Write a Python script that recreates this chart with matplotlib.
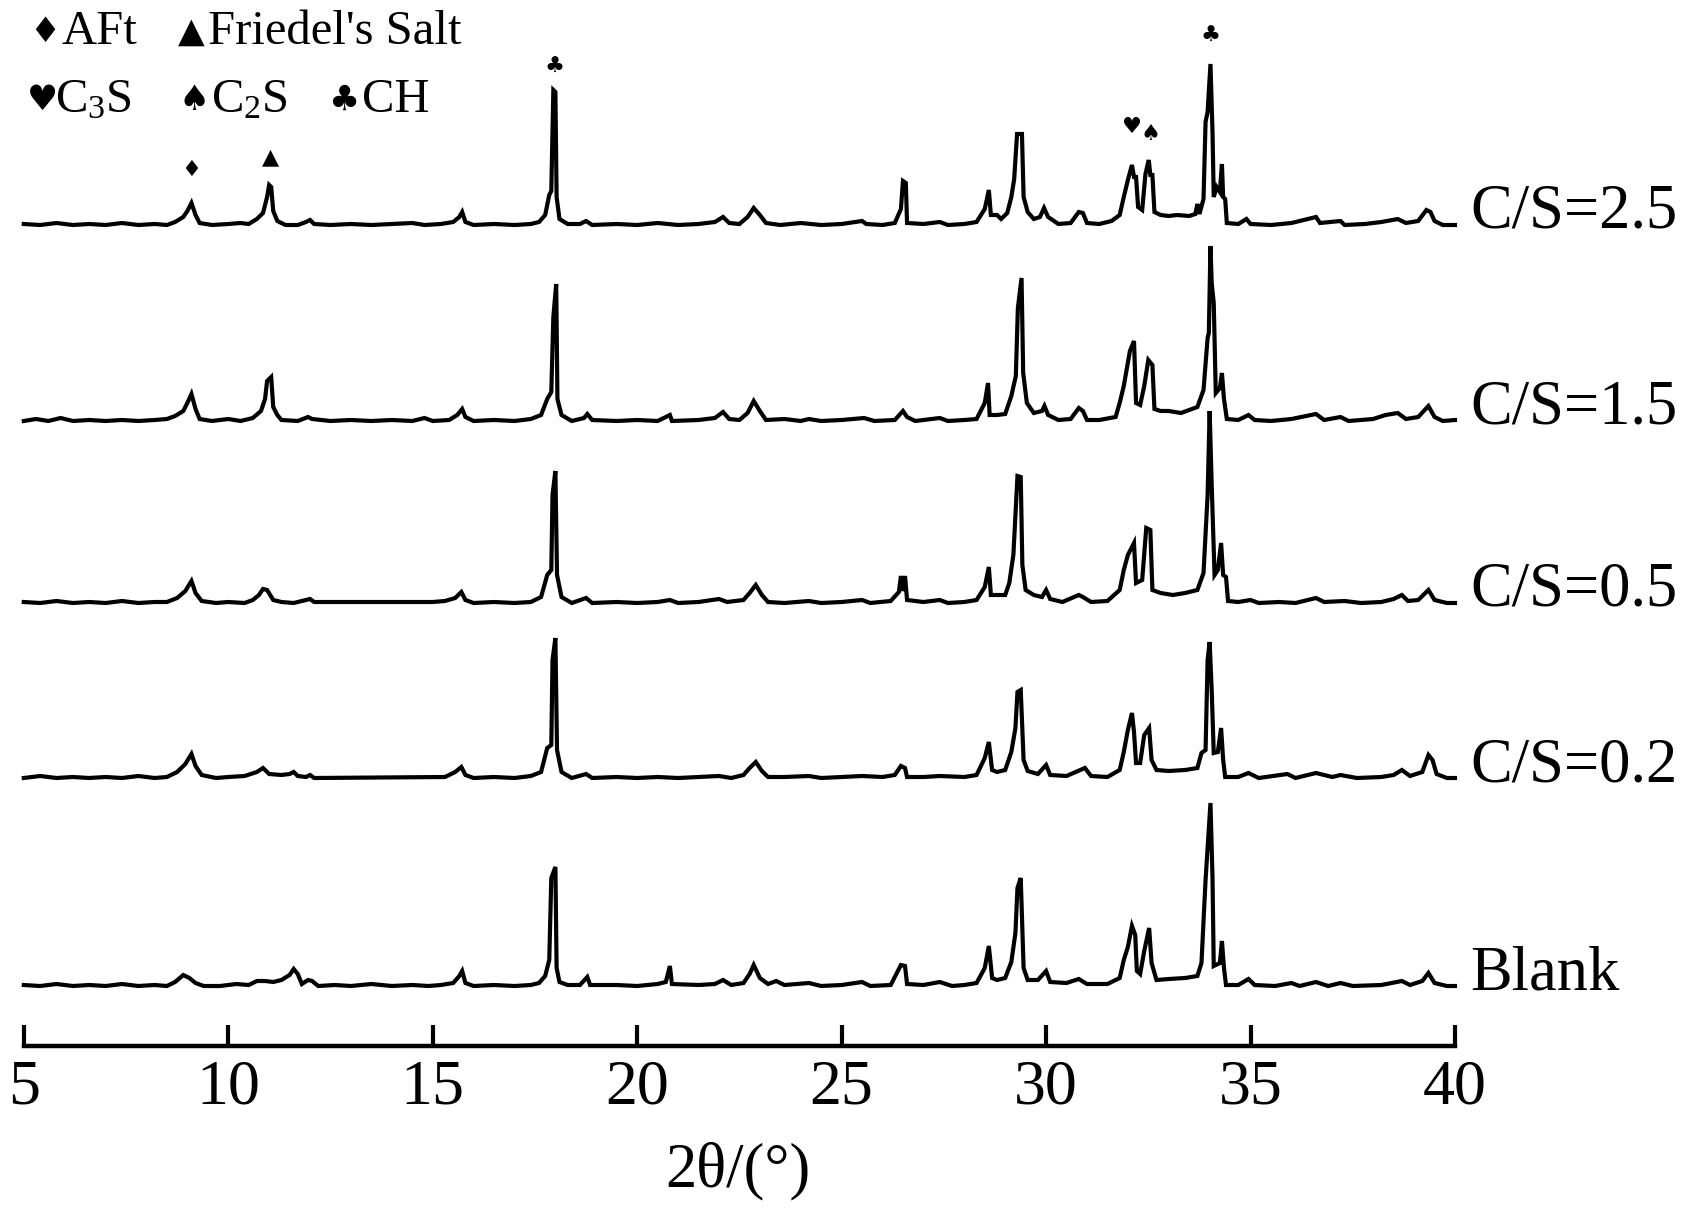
import matplotlib
matplotlib.use("Agg")
import matplotlib.pyplot as plt

plt.rcParams['font.family'] = ['Liberation Serif', 'DejaVu Sans']
plt.rcParams['mathtext.fontset'] = 'custom'
plt.rcParams['mathtext.rm'] = 'Liberation Serif'
plt.rcParams['mathtext.default'] = 'rm'

# ---------------- data (2theta, relative intensity) ----------------
series_labels = ["C/S=2.5", "C/S=1.5", "C/S=0.5", "C/S=0.2", "Blank"]
offsets = [819, 623, 441, 266, 58]

cs25 = [(5.0,3),(5.4,2),(5.8,4),(6.2,2),(6.6,3),(7.0,2),(7.4,4),(7.8,2),(8.2,3),(8.5,2),(8.7,5),(8.9,10),(9.0,16),(9.1,24),(9.2,12),(9.3,4),(9.6,2),(10.0,3),(10.3,4),(10.5,3),(10.7,8),(10.85,14),(10.95,30),(11.0,42),(11.05,40),(11.1,16),(11.2,6),(11.4,2),(11.7,2),(11.9,5),(12.0,7),(12.1,3),(12.5,2),(13.0,3),(13.5,2),(14.0,3),(14.5,4),(14.8,2),(15.2,3),(15.5,5),(15.65,10),(15.72,15),(15.8,5),(16.0,2),(16.5,3),(17.0,2),(17.4,3),(17.6,5),(17.75,12),(17.85,32),(17.9,36),(17.95,137),(18.0,135),(18.03,30),(18.1,8),(18.3,3),(18.6,3),(18.75,6),(18.9,2),(19.5,3),(20.0,2),(20.5,4),(21.0,2),(21.5,3),(21.9,5),(22.1,10),(22.25,4),(22.5,3),(22.7,10),(22.85,19),(23.0,12),(23.15,4),(23.5,2),(24.0,4),(24.5,2),(25.0,3),(25.5,6),(25.6,3),(26.0,2),(26.3,4),(26.45,18),(26.5,46),(26.57,44),(26.6,4),(27.0,3),(27.4,5),(27.6,2),(28.0,3),(28.3,5),(28.5,18),(28.6,37),(28.65,12),(28.8,12),(28.9,8),(29.05,14),(29.15,30),(29.22,48),(29.29,93),(29.41,93),(29.45,30),(29.55,15),(29.7,8),(29.85,10),(29.95,19),(30.05,10),(30.3,3),(30.6,4),(30.8,15),(30.9,14),(31.0,4),(31.3,3),(31.6,6),(31.8,12),(31.9,30),(32.0,47),(32.1,62),(32.15,50),(32.2,50),(32.25,20),(32.35,17),(32.43,53),(32.51,67),(32.55,52),(32.6,52),(32.65,15),(32.8,12),(33.0,11),(33.2,12),(33.5,11),(33.65,13),(33.7,23),(33.75,13),(33.85,28),(33.9,105),(33.95,115),(34.02,163),(34.07,95),(34.1,30),(34.17,40),(34.25,35),(34.3,63),(34.33,30),(34.38,28),(34.42,4),(34.7,3),(34.9,8),(35.0,3),(35.5,2),(36.0,4),(36.6,10),(36.7,4),(37.2,6),(37.3,2),(37.8,3),(38.2,5),(38.6,8),(38.8,4),(39.1,6),(39.3,17),(39.4,15),(39.5,6),(39.7,2),(40.0,2)]

cs15 = [(5.0,2),(5.3,4),(5.6,2),(5.9,5),(6.2,2),(6.6,3),(7.0,2),(7.4,3),(7.8,2),(8.2,3),(8.5,4),(8.7,7),(8.9,12),(9.0,20),(9.1,29),(9.2,14),(9.3,4),(9.6,2),(10.0,4),(10.3,2),(10.6,5),(10.8,12),(10.9,24),(10.95,42),(11.05,46),(11.1,16),(11.2,8),(11.3,3),(11.7,2),(11.95,6),(12.05,4),(12.5,2),(13.0,3),(13.5,2),(14.0,3),(14.5,2),(14.8,5),(15.0,2),(15.4,3),(15.6,8),(15.72,14),(15.8,6),(16.0,2),(16.5,3),(17.0,2),(17.4,4),(17.65,8),(17.8,24),(17.9,31),(17.95,106),(18.02,139),(18.05,24),(18.15,8),(18.4,2),(18.7,5),(18.78,9),(18.9,3),(19.5,2),(20.0,3),(20.5,2),(20.8,8),(20.85,2),(21.5,3),(21.9,5),(22.1,11),(22.25,4),(22.5,3),(22.7,10),(22.85,22),(23.0,12),(23.15,3),(23.6,4),(24.0,2),(24.2,4),(24.5,2),(25.0,3),(25.55,5),(25.8,2),(26.3,3),(26.5,12),(26.6,6),(26.8,2),(27.0,3),(27.4,5),(27.6,2),(28.0,3),(28.3,4),(28.5,20),(28.58,40),(28.62,8),(28.8,8),(29.0,9),(29.15,27),(29.26,47),(29.31,115),(29.4,145),(29.44,50),(29.53,20),(29.7,10),(29.9,12),(29.96,17),(30.05,8),(30.3,3),(30.6,4),(30.8,15),(30.9,12),(31.0,3),(31.3,3),(31.7,6),(31.8,20),(31.9,37),(32.05,72),(32.15,82),(32.2,20),(32.3,18),(32.4,37),(32.5,63),(32.6,58),(32.65,14),(32.8,12),(33.0,12),(33.3,10),(33.5,13),(33.7,16),(33.85,33),(33.95,85),(33.98,90),(34.02,177),(34.05,140),(34.1,120),(34.15,30),(34.25,35),(34.3,50),(34.35,24),(34.42,4),(34.7,3),(34.95,8),(35.1,3),(35.5,2),(36.0,4),(36.6,9),(36.8,3),(37.2,6),(37.4,2),(38.0,4),(38.3,8),(38.6,10),(38.8,4),(39.1,6),(39.35,17),(39.5,6),(39.7,2),(40.0,3)]

cs05 = [(5.0,3),(5.4,2),(5.8,4),(6.2,2),(6.6,3),(7.0,2),(7.4,4),(7.8,2),(8.2,3),(8.5,3),(8.75,7),(8.95,14),(9.1,24),(9.2,12),(9.35,4),(9.7,2),(10.0,3),(10.4,2),(10.6,5),(10.75,10),(10.85,16),(10.95,15),(11.1,5),(11.3,3),(11.6,2),(11.9,5),(12.0,6),(12.1,3),(15.0,3),(15.3,4),(15.55,7),(15.7,13),(15.8,5),(16.0,2),(16.5,3),(17.0,2),(17.4,3),(17.65,8),(17.8,30),(17.9,35),(17.93,110),(18.0,134),(18.04,30),(18.15,8),(18.4,2),(18.75,7),(18.9,2),(19.5,3),(20.0,2),(20.5,3),(20.8,5),(21.0,2),(21.5,3),(22.0,6),(22.2,3),(22.6,5),(22.75,12),(22.9,20),(23.05,10),(23.2,3),(23.6,2),(24.2,4),(24.5,2),(25.0,3),(25.5,5),(25.7,2),(26.2,4),(26.4,13),(26.45,29),(26.5,14),(26.55,29),(26.6,5),(27.0,3),(27.4,5),(27.6,2),(28.0,3),(28.3,5),(28.5,18),(28.6,38),(28.65,10),(28.8,10),(29.0,10),(29.1,22),(29.2,50),(29.3,129),(29.38,128),(29.42,40),(29.5,15),(29.7,10),(29.9,8),(30.0,15),(30.1,6),(30.4,3),(30.8,10),(30.9,8),(31.1,3),(31.5,4),(31.8,15),(31.9,35),(32.0,50),(32.15,62),(32.2,22),(32.35,25),(32.45,77),(32.55,75),(32.6,15),(32.8,12),(33.1,10),(33.4,12),(33.7,15),(33.85,32),(33.95,110),(34.0,194),(34.05,120),(34.12,30),(34.2,35),(34.28,62),(34.33,30),(34.4,28),(34.45,4),(34.7,3),(35.0,5),(35.2,2),(35.7,3),(36.1,2),(36.6,7),(36.8,3),(37.3,4),(37.7,2),(38.2,3),(38.5,6),(38.7,10),(38.85,4),(39.1,5),(39.35,15),(39.5,5),(39.8,2),(40.0,2)]

cs02 = [(5.0,2),(5.4,4),(5.8,2),(6.2,3),(6.6,2),(7.0,3),(7.4,2),(7.8,4),(8.2,2),(8.5,3),(8.75,8),(8.95,16),(9.1,26),(9.2,14),(9.35,5),(9.7,2),(10.0,3),(10.4,4),(10.7,8),(10.85,12),(11.0,6),(11.3,5),(11.5,6),(11.6,8),(11.7,4),(11.9,3),(12.0,5),(12.1,2),(15.0,3),(15.3,3),(15.55,8),(15.7,13),(15.8,5),(16.0,2),(16.5,3),(17.0,2),(17.4,4),(17.65,8),(17.8,32),(17.9,35),(17.93,120),(18.0,142),(18.04,30),(18.15,8),(18.4,2),(18.75,6),(18.9,2),(19.5,3),(20.0,2),(20.5,3),(21.0,2),(21.5,3),(22.0,4),(22.3,2),(22.6,5),(22.75,12),(22.9,18),(23.05,9),(23.2,3),(23.6,3),(24.2,4),(24.5,2),(25.0,3),(25.5,4),(26.0,3),(26.3,5),(26.45,14),(26.55,12),(26.6,3),(27.0,3),(27.4,4),(28.0,3),(28.3,5),(28.5,22),(28.6,38),(28.68,10),(28.8,8),(29.0,10),(29.15,28),(29.25,52),(29.3,88),(29.38,90),(29.45,20),(29.55,9),(29.8,6),(30.0,15),(30.1,5),(30.5,4),(30.95,12),(31.1,4),(31.5,3),(31.8,10),(31.9,28),(32.0,50),(32.1,67),(32.15,48),(32.2,17),(32.3,17),(32.4,45),(32.52,52),(32.58,20),(32.7,10),(33.0,9),(33.4,10),(33.7,12),(33.8,27),(33.9,30),(33.95,120),(34.0,138),(34.05,90),(34.1,27),(34.2,28),(34.28,52),(34.33,20),(34.38,3),(34.7,3),(34.95,7),(35.2,2),(35.9,6),(36.1,2),(36.6,7),(37.0,3),(37.2,5),(37.6,2),(38.2,3),(38.5,5),(38.7,10),(38.9,4),(39.2,8),(39.35,25),(39.45,20),(39.55,6),(39.8,2),(40.0,2)]

blank = [(5.0,3),(5.4,2),(5.8,4),(6.2,2),(6.6,3),(7.0,2),(7.4,4),(7.8,2),(8.2,3),(8.5,2),(8.7,6),(8.9,13),(9.05,10),(9.2,5),(9.4,2),(9.8,2),(10.2,4),(10.5,3),(10.7,7),(10.9,7),(11.1,6),(11.3,8),(11.5,13),(11.6,19),(11.7,14),(11.8,4),(11.95,8),(12.05,7),(12.2,2),(12.6,3),(13.0,2),(13.5,4),(14.0,2),(14.5,3),(14.9,2),(15.2,3),(15.5,5),(15.65,12),(15.72,17),(15.8,5),(16.0,2),(16.5,3),(17.0,2),(17.4,3),(17.6,5),(17.75,12),(17.85,28),(17.9,110),(18.0,121),(18.03,20),(18.1,6),(18.3,3),(18.6,3),(18.78,11),(18.85,3),(19.5,3),(20.0,2),(20.5,4),(20.7,6),(20.8,22),(20.85,4),(21.5,3),(21.9,4),(22.1,8),(22.3,3),(22.6,5),(22.75,14),(22.85,23),(23.0,10),(23.2,4),(23.4,7),(23.6,3),(24.2,5),(24.5,2),(25.0,3),(25.5,6),(25.7,2),(26.2,3),(26.45,23),(26.55,22),(26.6,4),(27.0,3),(27.4,6),(27.7,2),(28.0,3),(28.3,5),(28.5,20),(28.6,42),(28.68,10),(28.8,8),(29.0,10),(29.15,26),(29.25,55),(29.3,100),(29.38,110),(29.45,20),(29.55,8),(29.8,8),(30.0,17),(30.1,6),(30.5,5),(30.8,9),(31.0,4),(31.5,4),(31.8,10),(31.9,28),(32.0,41),(32.1,62),(32.18,53),(32.22,17),(32.3,14),(32.4,37),(32.52,60),(32.58,25),(32.7,8),(33.0,9),(33.4,10),(33.7,12),(33.8,25),(33.9,108),(34.02,185),(34.07,110),(34.1,22),(34.25,25),(34.3,47),(34.35,20),(34.4,3),(34.7,3),(34.95,9),(35.1,3),(35.6,2),(36.0,5),(36.2,2),(36.6,6),(36.9,2),(37.2,5),(37.5,2),(38.2,3),(38.7,7),(38.9,3),(39.2,7),(39.35,15),(39.5,5),(39.8,2),(40.0,2)]

series = [cs25, cs15, cs05, cs02, blank]

# phase markers: (symbol, 2theta, height)
peak_marks = [("\u2666", 9.1, 876), ("\u25B2", 11.03, 889), ("\u2663", 17.97, 979),
              ("\u2665", 32.1, 919), ("\u2660", 32.55, 912), ("\u2663", 34.02, 1010)]

legend_symbols = ["\u2666", "\u25B2", "\u2665", "\u2660", "\u2663"]
legend_texts = ["AFt", "Friedel's Salt", "C$_3$S", "C$_2$S", "CH"]

xticks = [5, 10, 15, 20, 25, 30, 35, 40]

# ---------------- figure ----------------
W, H = 1696, 1219
fig = plt.figure(figsize=(W / 100, H / 100), dpi=100)
ax = fig.add_axes([23.8 / W, 1 - 1046 / H, (1455 - 23.8) / W, 1046 / H])
ax.set_xlim(5, 40)
ax.set_ylim(0, 1046)
ax.patch.set_alpha(0)

for pts, off, lab in zip(series, offsets, series_labels):
    xs = [p[0] for p in pts]
    ys = [p[1] + off for p in pts]
    ax.plot(xs, ys, color='black', lw=3.0, solid_joinstyle='miter', clip_on=False)
    ax.text(40.38, off + 14, lab, fontsize=45, ha='left', va='center',
            family=['Liberation Serif', 'DejaVu Sans'])

for sym, x, y in peak_marks:
    ax.text(x, y, sym, fontsize=16, ha='center', va='center',
            family=['DejaVu Sans'])

for s in ['left', 'top', 'right']:
    ax.spines[s].set_visible(False)
ax.spines['bottom'].set_linewidth(3.2)
ax.set_yticks([])
ax.set_xticks(xticks)
ax.set_xticklabels([str(t) for t in xticks])
ax.tick_params(axis='x', direction='in', length=15, width=3, labelsize=46, pad=10)

# x label
fig.text(738 / W, 1 - 1171 / H, "2\u03b8/(\u00b0)", fontsize=45, ha='center', va='center')

# phase legend (symbol x, text x, row y) in pixels
sym_x = [29, 178, 27, 178, 328]
txt_x = [62, 208, 55, 211, 362]
row_y = [32, 32, 100, 100, 100]
for sym, txt, sx, tx, py in zip(legend_symbols, legend_texts, sym_x, txt_x, row_y):
    fig.text(sx / W, 1 - py / H, sym, fontsize=25, ha='left', va='center',
             family=['DejaVu Sans'])
    fig.text(tx / W, 1 - py / H, txt, fontsize=35, ha='left', va='center')

fig.savefig("out.png", dpi=100)
